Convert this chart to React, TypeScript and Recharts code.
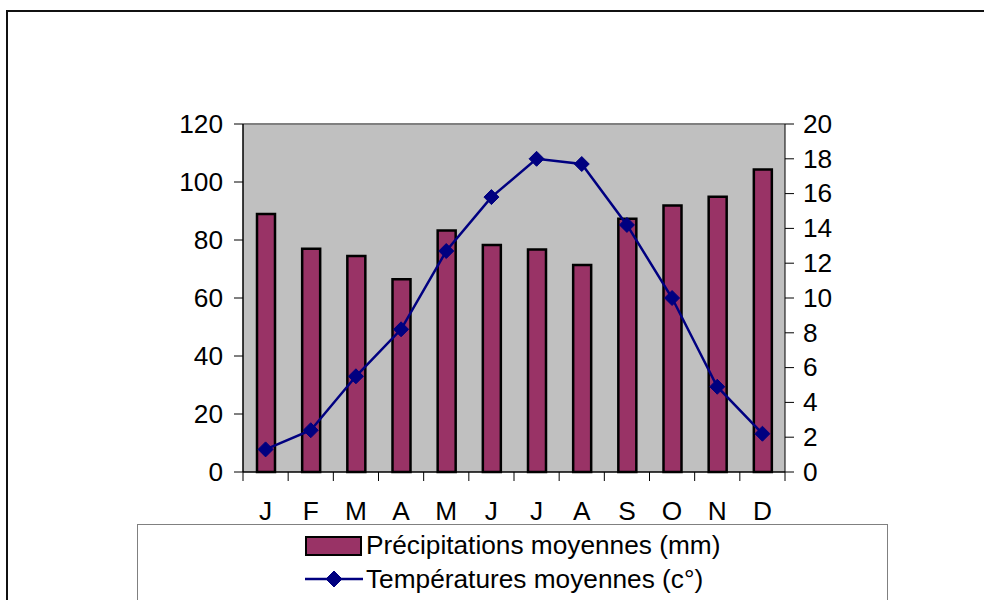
import { ComposedChart, Bar, Line, XAxis, YAxis, CartesianGrid, ReferenceLine, Legend } from 'recharts';

const months = ['J', 'F', 'M', 'A', 'M', 'J', 'J', 'A', 'S', 'O', 'N', 'D'];
const precipitation = [89, 77, 74.5, 66.5, 83.3, 78.3, 76.7, 71.4, 87.3, 91.9, 94.9, 104.3];
const temperature = [1.3, 2.4, 5.5, 8.2, 12.7, 15.8, 18, 17.7, 14.2, 10, 4.9, 2.2];
const leftTicks = [0, 20, 40, 60, 80, 100, 120];
const rightTicks = [0, 2, 4, 6, 8, 10, 12, 14, 16, 18, 20];

const data = months.map((m, i) => ({
  month: m,
  precip: precipitation[i],
  temp: temperature[i],
}));

const FONT = '"Liberation Sans", Arial, sans-serif';
const FS = 25;
const STRETCH = 1.05;
const PLOT_LEFT = 243;
const PLOT_RIGHT = 785;
const PLOT_BOTTOM = 472;
const BAND = (PLOT_RIGHT - PLOT_LEFT) / months.length;

const StretchText = ({ x, y, anchor, children }: any) => (
  <text
    transform={`translate(${x} ${y}) scale(${STRETCH} 1)`}
    x={0}
    y={0}
    textAnchor={anchor}
    dominantBaseline="central"
    fontFamily={FONT}
    fontSize={FS}
    fill="#000"
  >
    {children}
  </text>
);

const MonthTick = (props: any) => {
  const { x, index, payload } = props;
  const left = x - BAND / 2;
  return (
    <g>
      <line x1={left} y1={PLOT_BOTTOM} x2={left} y2={PLOT_BOTTOM + 9} stroke="#000" strokeWidth={1} />
      {index === months.length - 1 && (
        <line x1={x + BAND / 2} y1={PLOT_BOTTOM} x2={x + BAND / 2} y2={PLOT_BOTTOM + 9} stroke="#000" strokeWidth={1} />
      )}
      <StretchText x={x} y={PLOT_BOTTOM + 39} anchor="middle">
        {payload.value}
      </StretchText>
    </g>
  );
};

const LeftTick = (props: any) => (
  <StretchText x={props.x} y={props.y} anchor="end">
    {props.payload.value}
  </StretchText>
);

const RightTick = (props: any) => (
  <StretchText x={props.x} y={props.y} anchor="start">
    {props.payload.value}
  </StretchText>
);

const Diamond = ({ cx, cy, r = 7.5 }: any) => (
  <polygon
    points={`${cx},${cy - r} ${cx + r},${cy} ${cx},${cy + r} ${cx - r},${cy}`}
    fill="#000080"
    stroke="#000080"
    strokeWidth={1}
  />
);

const LegendBox = () => (
  <svg width={751} height={90} style={{ display: 'block' }}>
    <rect x={0.5} y={0.5} width={750} height={100} fill="#fff" stroke="#808080" strokeWidth={1} />
    <rect x={169} y={13} width={55} height={18} fill="#993366" stroke="#000" strokeWidth={2} />
    <StretchText x={229} y={21} anchor="start">
      Précipitations moyennes (mm)
    </StretchText>
    <line x1={168} y1={55} x2={226} y2={55} stroke="#000080" strokeWidth={2.5} />
    <Diamond cx={197} cy={55} r={8} />
    <StretchText x={229} y={55} anchor="start">
      Températures moyennes (c°)
    </StretchText>
  </svg>
);

export default function App() {
  return (
    <div style={{ position: 'absolute', left: 0, top: 0, width: 984, height: 600, overflow: 'hidden', background: '#fff' }}>
      <div
        style={{
          position: 'absolute',
          left: 6,
          top: 10,
          width: 1100,
          height: 1000,
          border: '2px solid #111',
        }}
      />
      <div style={{ position: 'absolute', left: 0, top: 0 }}>
        <ComposedChart
          width={984}
          height={600}
          data={data}
          margin={{ top: 124, right: 0, bottom: 98, left: 0 }}
        >
          <CartesianGrid fill="#C0C0C0" stroke="none" horizontal={false} vertical={false} yAxisId="left" />
          <XAxis
            dataKey="month"
            height={30}
            interval={0}
            tickLine={false}
            axisLine={{ stroke: '#000', strokeWidth: 1.5 }}
            tick={<MonthTick />}
          />
          <YAxis
            yAxisId="left"
            orientation="left"
            width={PLOT_LEFT}
            domain={[0, 120]}
            ticks={leftTicks}
            tickSize={9}
            tickMargin={11}
            tickLine={{ stroke: '#000' }}
            axisLine={{ stroke: '#000', strokeWidth: 1.5 }}
            tick={<LeftTick />}
          />
          <YAxis
            yAxisId="right"
            orientation="right"
            width={984 - PLOT_RIGHT}
            domain={[0, 20]}
            ticks={rightTicks}
            tickSize={9}
            tickMargin={9}
            tickLine={{ stroke: '#000' }}
            axisLine={{ stroke: '#000', strokeWidth: 1 }}
            tick={<RightTick />}
          />
          <ReferenceLine yAxisId="left" y={120} stroke="#808080" strokeWidth={2} />
          <Bar
            yAxisId="left"
            dataKey="precip"
            barSize={18}
            fill="#993366"
            stroke="#000"
            strokeWidth={2.5}
            isAnimationActive={false}
          />
          <Line
            yAxisId="right"
            dataKey="temp"
            type="linear"
            stroke="#000080"
            strokeWidth={2.5}
            dot={(p: any) => <Diamond key={`d-${p.index}`} cx={p.cx} cy={p.cy} />}
            activeDot={false}
            isAnimationActive={false}
          />
          <Legend
            layout="horizontal"
            verticalAlign="middle"
            align="center"
            content={<LegendBox />}
            wrapperStyle={{ left: 137, top: 524, width: 751, height: 90 }}
          />
        </ComposedChart>
      </div>
    </div>
  );
}
